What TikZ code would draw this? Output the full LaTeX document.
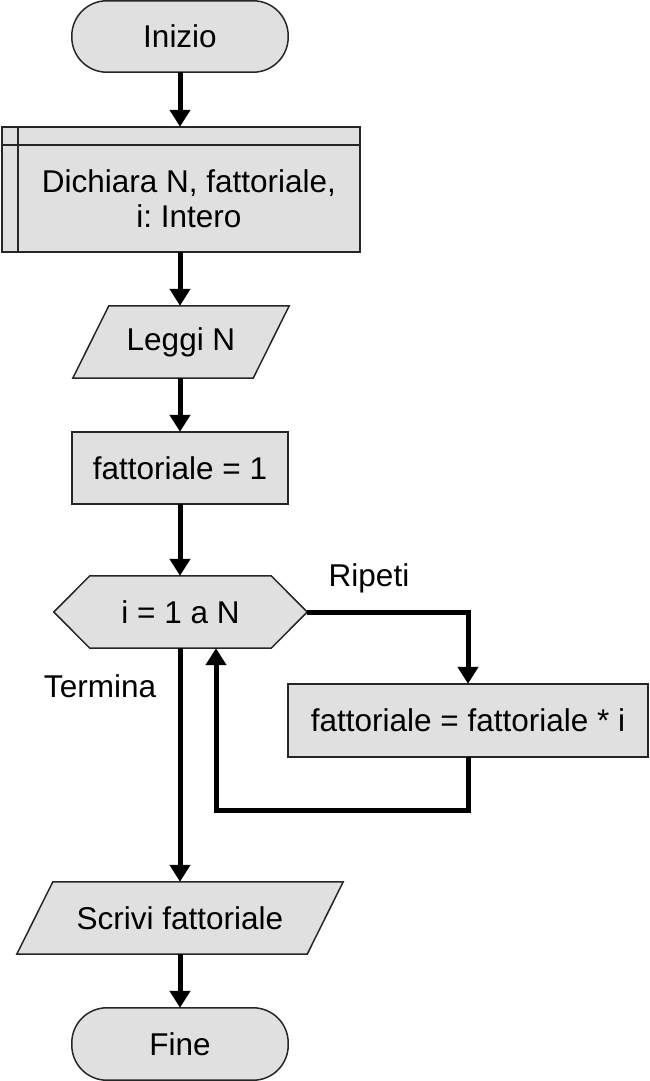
\documentclass[tikz,border=0pt]{standalone}
\usepackage{fontspec}
\setmainfont{Liberation Sans}
\usetikzlibrary{arrows.meta,backgrounds,calc}
\definecolor{shapefill}{RGB}{224,224,224}
\frenchspacing
\begin{document}
\begin{tikzpicture}[x=1pt,y=-1pt,
  box/.style={inner sep=0pt, font=\fontsize{31.5}{35}\selectfont, align=center},
  lbl/.style={inner sep=0pt, font=\fontsize{31.5}{35}\selectfont},
  shp/.style={fill=shapefill, draw=black!85, line width=1.5pt, line join=miter},
  arr/.style={line width=5pt, -{Triangle[width=20pt,length=17pt]}}]
\useasboundingbox (0,0) rectangle (649,1081);

% nodes (bounding boxes of the shapes)
\node[box, minimum width=216pt, minimum height=71pt] (inizio) at (180,36.5) {Inizio};
\node[box, minimum width=358pt, minimum height=125pt] (dich) at (181,189.5) {};
\node[box] (dicht) at (189,198.5) {Dichiara N, fattoriale,\\i: Intero};
\node[box, minimum width=216pt, minimum height=72pt] (leggi) at (181,342) {Leggi N};
\node[box, minimum width=216pt, minimum height=72pt] (fatt1) at (180,468) {fattoriale = 1};
\node[box, minimum width=253pt, minimum height=72pt] (hex) at (180.5,612) {i = 1 a N};
\node[lbl] (ripeti) at (369,578) {Ripeti};
\node[lbl] (termina) at (100,686) {Termina};
\node[box, minimum width=360pt, minimum height=73pt] (loop) at (468,720.5) {fattoriale = fattoriale * i};
\node[box, minimum width=326pt, minimum height=72pt] (scrivi) at (180,918) {Scrivi fattoriale};
\node[box, minimum width=216pt, minimum height=72pt] (fine) at (180,1044) {Fine};

\coordinate (back) at ($(hex.south)+(35.5,0)$);

% shapes behind the text
\begin{scope}[on background layer]
  \path[shp, rounded corners=35pt] (inizio.north west) rectangle (inizio.south east);
  \path[shp, rounded corners=35pt] (fine.north west) rectangle (fine.south east);
  \path[shp] (dich.north west) rectangle (dich.south east);
  \draw[draw=black!85, line width=1.5pt] ($(dich.north west)+(0,18)$) -- ($(dich.north east)+(0,18)$);
  \draw[draw=black!85, line width=1.5pt] ($(dich.north west)+(16,0)$) -- ($(dich.south west)+(16,0)$);
  \path[shp] ($(leggi.north west)+(36,0)$) -- (leggi.north east) -- ($(leggi.south east)+(-36,0)$) -- (leggi.south west) -- cycle;
  \path[shp] ($(scrivi.north west)+(36,0)$) -- (scrivi.north east) -- ($(scrivi.south east)+(-36,0)$) -- (scrivi.south west) -- cycle;
  \path[shp] (fatt1.north west) rectangle (fatt1.south east);
  \path[shp] (loop.north west) rectangle (loop.south east);
  \path[shp] (hex.west) -- ($(hex.north west)+(36,0)$) -- ($(hex.north east)+(-36,0)$) -- (hex.east)
     -- ($(hex.south east)+(-36,0)$) -- ($(hex.south west)+(36,0)$) -- cycle;
\end{scope}

% connectors
\draw[arr] (inizio.south) -- (inizio.south |- dich.north);
\draw[arr] (inizio.south |- dich.south) -- (inizio.south |- leggi.north);
\draw[arr] (inizio.south |- leggi.south) -- (fatt1.north);
\draw[arr] (fatt1.south) -- (fatt1.south |- hex.north);
\draw[arr] (hex.east) -| (loop.north);
\draw[arr] (loop.south) -- ++(0,53) -| (back);
\draw[arr] (fatt1.south |- hex.south) -- (scrivi.north);
\draw[arr] (scrivi.south) -- (fine.north);
\end{tikzpicture}
\end{document}
